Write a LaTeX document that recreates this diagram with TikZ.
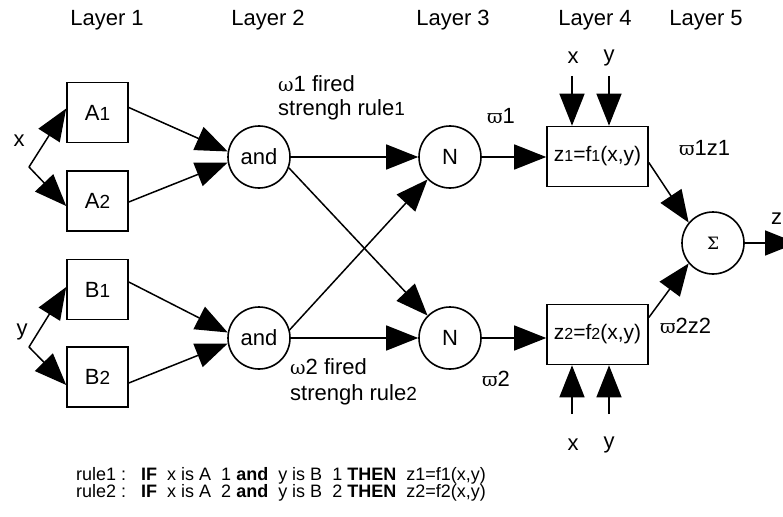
\documentclass[tikz,border=0pt]{standalone}
\usepackage{fontspec}
\setmainfont{Liberation Sans}
\newfontfamily\grk{DejaVu Serif}
\usetikzlibrary{arrows.meta}
\newcommand\dg[1]{{\fontsize{19}{20}\selectfont #1}}
\newcommand\sdg[1]{{\fontsize{16}{18}\selectfont #1}}
\begin{document}
\begin{tikzpicture}[x=1pt,y=-1pt,
  every node/.style={font=\fontsize{22}{24}\selectfont, inner sep=0pt},
  box/.style={draw, line width=1.6pt, minimum width=61pt, minimum height=60pt,
    font=\fontsize{22}{24}\selectfont},
  fbox/.style={draw, line width=1.6pt, minimum width=101pt, minimum height=60pt,
    font=\fontsize{21}{24}\selectfont},
  circ/.style={draw, circle, line width=1.6pt, minimum size=62pt,
    font=\fontsize{22}{24}\selectfont},
  conn/.style={line width=1.5pt, -{Triangle[length=32pt,width=25pt]}},
  lbl/.style={font=\fontsize{22}{24}\selectfont},
  rule/.style={font=\fontsize{18}{19}\selectfont, anchor=west}]
\useasboundingbox (0,0) rectangle (783,516);

% layer headings
\node[lbl] (L1) at (107,20) {Layer 1};
\node[lbl] (L2) at (268,20) {Layer 2};
\node[lbl] (L3) at (453,20) {Layer 3};
\node[lbl] (L4) at (595,20) {Layer 4};
\node[lbl] (L5) at (706,20) {Layer 5};

% layer 1: membership boxes
\node[box] (A1) at (97.5,112.5) {A\dg1};
\node[box] (A2) at (97.5,201) {A\dg2};
\node[box] (B1) at (97.5,289.5) {B\dg1};
\node[box] (B2) at (97.5,377) {B\dg2};

% layer 2: firing strengths
\node[circ] (and1) at (259,157) {and};
\node[circ] (and2) at (259,338) {and};

% layer 3: normalisation
\node[circ] (N1) at (450,157) {N};
\node[circ] (N2) at (450,338) {N};

% layer 4: consequents
\node[fbox] (F1) at (597.5,156.5) {z\sdg1=f\sdg1(x,y)};
\node[fbox] (F2) at (597.5,334.5) {z\sdg2=f\sdg2(x,y)};

% layer 5: sum
\node[circ, font=\grk\fontsize{17}{18}\selectfont] (S) at (713,243) {Σ};

% inputs
\node[lbl] (xin) at (19,141) {x};
\node[lbl] (yin) at (22,332) {y};
\coordinate (xs) at (29,167);
\coordinate (ys) at (29,347);

\draw[conn] (xs) -- ([yshift=4pt]A1.west);
\draw[conn] (xs) -- ([yshift=-5pt]A2.west);
\draw[conn] (ys) -- ([yshift=2.5pt]B1.west);
\draw[conn] (ys) -- ([yshift=-8pt]B2.west);

\draw[conn] ([yshift=5pt]A1.east) -- (and1.170);
\draw[conn] ([yshift=-1pt]A2.east) -- (and1.190);
\draw[conn] ([yshift=7.5pt]B1.east) -- (and2.170);
\draw[conn] ([yshift=-6pt]B2.east) -- (and2.190);

\draw[conn] (and1.east) -- (N1.west);
\draw[conn] (and2.east) -- (N2.west);
\draw[conn] (and1.-20) -- (N2.135);
\draw[conn] (and2.15) -- (N1.-135);

\draw[conn] (N1.east) -- (F1.west |- N1.east);
\draw[conn] (N2.east) -- (F2.west |- N2.east);

% consequent parameters
\coordinate (tx) at (572,76);
\coordinate (ty) at (609,76);
\coordinate (bx) at (572,414);
\coordinate (by) at (609,414);
\draw[conn] (tx) -- (tx |- F1.north);
\draw[conn] (ty) -- (ty |- F1.north);
\draw[conn] (bx) -- (bx |- F2.south);
\draw[conn] (by) -- (by |- F2.south);
\node[lbl] (txl) at (573,58) {x};
\node[lbl] (tyl) at (609,58) {y};
\node[lbl] (bxl) at (573,445) {x};
\node[lbl] (byl) at (609,445) {y};

\draw[conn] ([yshift=-6pt]F1.east) -- (S.140);
\draw[conn] ([yshift=17pt]F2.east) -- (S.-140);
\coordinate (zout) at (797,243);
\draw[conn] (S.east) -- (zout);
\node[lbl, anchor=west] (zl) at (771,219) {z};

% signal labels
\node[lbl, anchor=west] (w1a) at (278,84) {{\grk\fontsize{19}{20}\selectfont ω}1 fired};
\node[lbl, anchor=west] (w1b) at (278,110) {strengh rule\dg1};
\node[lbl, anchor=west] (w2a) at (290,367) {{\grk\fontsize{19}{20}\selectfont ω}2 fired};
\node[lbl, anchor=west] (w2b) at (290,395) {strengh rule\dg2};
\node[lbl, anchor=west] (nb1) at (487,116) {{\grk\fontsize{19}{20}\selectfont ϖ}1};
\node[lbl, anchor=west] (nb2) at (482,379) {{\grk\fontsize{19}{20}\selectfont ϖ}2};
\node[lbl, anchor=west] (o1) at (679,148) {{\grk\fontsize{19}{20}\selectfont ϖ}1z1};
\node[lbl, anchor=west] (o2) at (660,326) {{\grk\fontsize{19}{20}\selectfont ϖ}2z2};

% rule base
\node[rule] (r1) at (76,476) {rule1 :\ \ \ \textbf{IF}\ \ x is A\ \ 1 \textbf{and}\ \ y is B\ \ 1 \textbf{THEN}\ \ z1=f1(x,y)};
\node[rule] (r2) at (76,493) {rule2 :\ \ \ \textbf{IF}\ \ x is A\ \ 2 \textbf{and}\ \ y is B\ \ 2 \textbf{THEN}\ \ z2=f2(x,y)};
\end{tikzpicture}
\end{document}
